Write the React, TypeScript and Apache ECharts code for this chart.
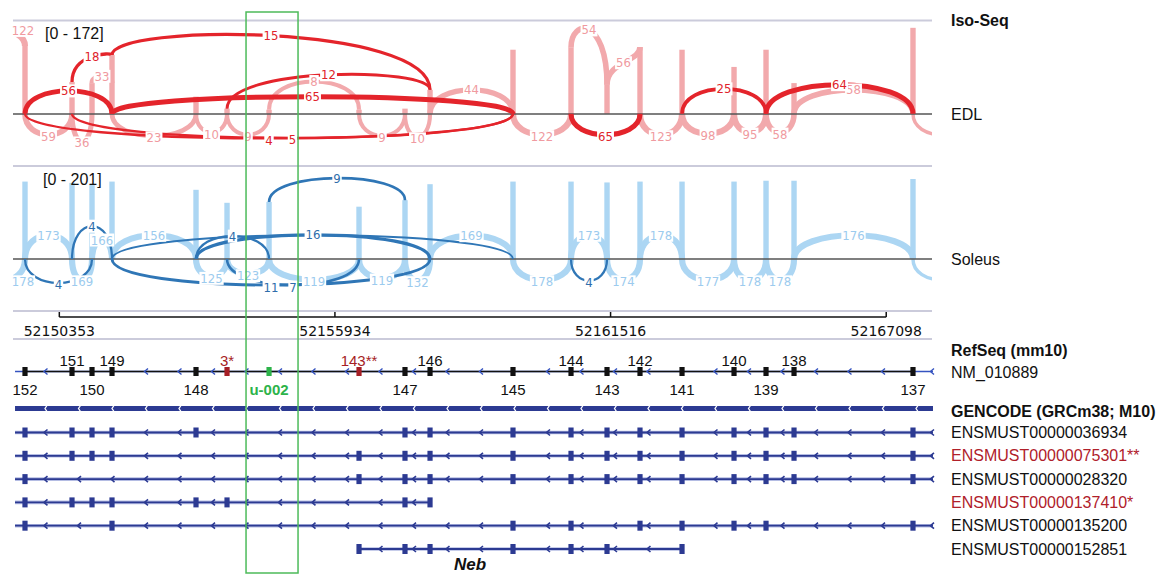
import React, { useEffect, useRef } from "react";
import * as echarts from "echarts";

// ---------- data ----------
const EXON_NAMES = ["152", "151", "150", "149", "148", "3*", "u-002", "143**", "147", "146", "145", "144", "143", "142", "141", "140", "139", "138", "137"];
const EXON_POS = [52149658, 52150610, 52151015, 52151420, 52153121, 52153749, 52154600, 52156422, 52157353, 52157860, 52159540, 52160715, 52161444, 52162112, 52162963, 52164016, 52164664, 52165231, 52167640];
const REFSEQ_LABEL_ABOVE = [false, true, false, true, false, true, false, true, false, true, false, true, false, true, false, true, false, true, false];
const OFFSCREEN_NAMES = ["153", "136"];
const OFFSCREEN_POS = [52148848, 52168795];
const GENE_START = 52149456;
const GENE_END = 52168045;
const RULER_TICKS = [52150353, 52155934, 52161516, 52167098];
const HIGHLIGHT_REGION = [52154134, 52155187];
const RED_EXONS = ["3*", "143**"];
const GREEN_EXONS = ["u-002"];

const EDL_COVERAGE = [132, 61, 59, 113, 33, 10, 8, 8, 10, 46, 123, 127, 56, 128, 123, 90, 123, 59, 165];
const SOLEUS_COVERAGE = [179, 176, 171, 179, 160, 130, 132, 121, 136, 173, 179, 179, 177, 179, 179, 179, 181, 181, 185];

// [from, to, count, side(1 above / -1 below), apex, startHeight, endHeight, dark]
type Junction = [string, string, number | null, number, number, number, number, number];
const EDL_JUNCTIONS: Junction[] = [
  ["153", "152", 122, 1, 160, 150, 130, 0],
  ["152", "151", 59, -1, -40, 0, 0, 0],
  ["151", "150", 36, -1, -52, 0, 0, 0],
  ["150", "149", 33, 1, 72, 59, 59, 0],
  ["149", "148", 23, -1, -42, 0, 0, 0],
  ["148", "3*", 10, -1, -35, 0, 0, 0],
  ["3*", "u-002", 9, -1, -40, 0, 0, 0],
  ["u-002", "143**", 8, 1, 62, 8, 8, 0],
  ["143**", "147", 9, -1, -42, 0, 0, 0],
  ["147", "146", 10, -1, -44, 0, 0, 0],
  ["146", "145", 44, 1, 46, 0, 0, 0],
  ["145", "144", 122, -1, -40, 0, 0, 0],
  ["144", "143", 54, 1, 161, 127, 56, 0],
  ["143", "142", 56, 1, 98, 56, 128, 0],
  ["142", "141", 123, -1, -40, 0, 0, 0],
  ["141", "140", 98, -1, -38, 0, 0, 0],
  ["140", "139", 95, -1, -35, 0, 0, 0],
  ["139", "138", 58, -1, -35, 0, 0, 0],
  ["138", "137", 58, 1, 46, 0, 0, 0],
  ["137", "136", null, -1, -40, 0, 0, 0],
  ["152", "149", 56, 1, 44, 0, 0, 1],
  ["151", "149", 18, 1, 110, 61, 113, 1],
  ["149", "146", 15, 1, 150, 113, 46, 1],
  ["3*", "146", 12, 1, 75, 10, 46, 1],
  ["149", "145", 65, 1, 33, 0, 0, 1],
  ["152", "145", 4, -1, -47, 0, 0, 1],
  ["151", "145", 5, -1, -46, 0, 0, 1],
  ["144", "142", 65, -1, -40, 0, 0, 1],
  ["141", "139", 25, 1, 48, 0, 0, 1],
  ["139", "137", 64, 1, 56, 0, 0, 1],
];

const SOLEUS_JUNCTIONS: Junction[] = [
  ["153", "152", 178, -1, -48, 0, 0, 0],
  ["152", "151", 173, 1, 55, 0, 0, 0],
  ["151", "150", 169, -1, -48, 0, 0, 0],
  ["150", "149", 166, 1, 44, 0, 0, 0],
  ["149", "148", 156, 1, 55, 0, 0, 0],
  ["148", "3*", 125, -1, -40, 0, 0, 0],
  ["3*", "u-002", 123, -1, -34, 0, 0, 0],
  ["u-002", "143**", 119, -1, -48, 0, 0, 0],
  ["143**", "147", 119, -1, -44, 0, 0, 0],
  ["147", "146", 132, -1, -50, 0, 0, 0],
  ["146", "145", 169, 1, 54, 0, 0, 0],
  ["145", "144", 178, -1, -48, 0, 0, 0],
  ["144", "143", 173, 1, 55, 0, 0, 0],
  ["143", "142", 174, -1, -48, 0, 0, 0],
  ["142", "141", 178, 1, 55, 0, 0, 0],
  ["141", "140", 177, -1, -48, 0, 0, 0],
  ["140", "139", 178, -1, -48, 0, 0, 0],
  ["139", "138", 178, -1, -48, 0, 0, 0],
  ["138", "137", 176, 1, 55, 0, 0, 0],
  ["137", "136", null, -1, -48, 0, 0, 0],
  ["152", "150", 4, -1, -55, 0, 0, 1],
  ["151", "149", 4, 1, 76, 0, 0, 1],
  ["u-002", "147", 9, 1, 187, 132, 136, 1],
  ["149", "145", null, 1, 55, 0, 0, 1],
  ["148", "146", 16, 1, 56, 0, 0, 1],
  ["148", "u-002", 4, 1, 53, 0, 0, 1],
  ["149", "146", 11, -1, -60, 0, 0, 1],
  ["3*", "143**", 7, -1, -60, 0, 0, 1],
  ["144", "143", 4, -1, -50, 0, 0, 1],
];

const TX_IDS = ["ENSMUST00000036934", "ENSMUST00000075301**", "ENSMUST00000028320", "ENSMUST00000137410*", "ENSMUST00000135200", "ENSMUST00000152851"];
const TX_RED = [false, true, false, true, false, false];
const TX_EXONS = [
  ["152", "151", "150", "149", "148", "147", "146", "145", "144", "143", "142", "141", "140", "139", "138", "137"],
  ["152", "151", "150", "149", "143**", "147", "146", "145", "144", "143", "142", "141", "140", "139", "138", "137"],
  ["152", "143**", "147", "146", "145", "144", "143", "142", "141", "140", "139", "138", "137"],
  ["152", "151", "150", "149", "148", "3*", "147", "146"],
  ["152", "149", "145", "144", "142", "141", "140", "139", "137"],
  ["143**", "147", "146", "145", "144", "143", "141"],
];

// ---------- layout / style ----------
const W = 1166, H = 575;
const GRID_LEFT = 13, GRID_WIDTH = 919;
const X_MIN = 52149415, X_MAX = 52168025;
const RULER_Y = 6, RULER_LABEL_Y = 19.5;
const REFSEQ_Y = 60.5, REFSEQ_ABOVE_Y = 49, REFSEQ_BELOW_Y = 78;
const GENCODE_Y = 97.5, TX_Y0 = 121.5, TX_STEP = 23.3;
const ANNOT_TOP = 311;
const LABEL_X = 951;
const CHEV_ANCHOR = 32.5, CHEV_STEP = 33.5;
const SANS = "'Liberation Sans', Arial, Helvetica, sans-serif";
const ARC_FONT = "13px 'DejaVu Sans Condensed', 'DejaVu Sans', sans-serif";
const TX_BLUE = "#2c3a92";
const CHEV_BLUE = "#3553c0";
const EDL_PAL = { light: "#f2a9ac", dark: "#e4242b", lightText: "#f09aa0", darkText: "#e0222a" };
const SOL_PAL = { light: "#acd6f3", dark: "#2f76b6", lightText: "#9ccbee", darkText: "#2e6dab" };

const posOf = (name: string): number => {
  const i = EXON_NAMES.indexOf(name);
  if (i >= 0) return EXON_POS[i];
  return OFFSCREEN_POS[OFFSCREEN_NAMES.indexOf(name)];
};

function chevron(x: number, y: number, color: string, lw = 1.4) {
  return { type: "polyline", shape: { points: [[x + 2, y - 3], [x - 1.5, y], [x + 2, y + 3]] }, style: { stroke: color, lineWidth: lw, fill: "none" } };
}

function trackSeries(idx: number, coverage: number[], junctions: Junction[], pal: any) {
  const resolved = junctions.map((j) => ({
    x1: posOf(j[0]), x2: posOf(j[1]), count: j[2], side: j[3], apex: j[4], h1: j[5], h2: j[6], dark: j[7],
  }));
  const light = resolved.filter((r) => !r.dark);
  const dark = resolved.filter((r) => r.dark);
  const labeled = resolved.filter((r) => r.count !== null);
  const geom = (r: any, api: any) => {
    const p1 = api.coord([r.x1, r.h1]);
    const p2 = api.coord([r.x2, r.h2]);
    const ay = api.coord([r.x1, r.apex])[1];
    const c = (ay - (p1[1] + p2[1]) / 8) / 0.75;
    return { p1, p2, ay, c };
  };
  const width = (r: any) => {
    const n = r.count === null ? 2 : r.count;
    return r.dark ? Math.min(5.2, 1.4 + Math.sqrt(n) * 0.45) : Math.min(6.2, 3 + Math.sqrt(n) * 0.35);
  };
  const arcSeries = (list: any[], z: number) => ({
    type: "custom", xAxisIndex: idx, yAxisIndex: idx, z, clip: true, silent: true,
    data: list.map((r) => [r.x1, r.x2, r.h1, r.h2, r.apex]),
    renderItem: (params: any, api: any) => {
      const r = list[params.dataIndex];
      const { p1, p2, c } = geom(r, api);
      return {
        type: "bezierCurve",
        shape: { x1: p1[0], y1: p1[1], x2: p2[0], y2: p2[1], cpx1: p1[0], cpy1: c, cpx2: p2[0], cpy2: c },
        style: { stroke: r.dark ? pal.dark : pal.light, lineWidth: width(r), fill: "none" },
      };
    },
  });
  return [
    {
      type: "custom", xAxisIndex: idx, yAxisIndex: idx, z: 2, silent: true,
      data: EXON_POS.map((p, i) => [p, coverage[i]]),
      renderItem: (params: any, api: any) => {
        const top = api.coord([api.value(0), api.value(1)]);
        const base = api.coord([api.value(0), 0]);
        return { type: "rect", shape: { x: top[0] - 2.7, y: top[1], width: 5.4, height: base[1] - top[1] }, style: { fill: pal.light } };
      },
    },
    arcSeries(light, 3),
    arcSeries(dark, 5),
    {
      type: "custom", xAxisIndex: idx, yAxisIndex: idx, z: 6, silent: true,
      data: labeled.map((r) => [r.x1, r.x2, r.apex]),
      renderItem: (params: any, api: any) => {
        const r = labeled[params.dataIndex];
        const { p1, p2, ay } = geom(r, api);
        const mx = Math.max((p1[0] + p2[0]) / 2, GRID_LEFT + 10);
        return {
          type: "text", x: mx, y: ay + (r.side < 0 ? 2 : 0),
          style: {
            text: String(r.count), fill: r.dark ? pal.darkText : pal.lightText, font: ARC_FONT,
            align: "center", verticalAlign: "middle", textAlign: "center", textVerticalAlign: "middle",
            backgroundColor: "#ffffff", padding: [0, 1],
          },
        };
      },
    },
  ];
}

function annotationSeries() {
  const A = 2;
  const ruler = {
    type: "custom", xAxisIndex: A, yAxisIndex: A, z: 3, silent: true,
    data: RULER_TICKS.map((t) => [t]),
    renderItem: (params: any, api: any) => {
      const t = api.value(0);
      const p = api.coord([t, RULER_Y]);
      const children: any[] = [
        { type: "line", shape: { x1: p[0], y1: p[1] - 5, x2: p[0], y2: p[1] }, style: { stroke: "#111", lineWidth: 1.5 } },
        {
          type: "text", x: p[0], y: api.coord([t, RULER_LABEL_Y])[1],
          style: { text: String(t), fill: "#111", font: "14px 'DejaVu Sans', sans-serif", align: "center", verticalAlign: "middle", textAlign: "center", textVerticalAlign: "middle" },
        },
      ];
      if (params.dataIndex === 0) {
        const q = api.coord([RULER_TICKS[RULER_TICKS.length - 1], RULER_Y]);
        children.push({ type: "line", shape: { x1: p[0], y1: p[1], x2: q[0], y2: q[1] }, style: { stroke: "#111", lineWidth: 1.5 } });
      }
      return { type: "group", children };
    },
  };

  const refLine = {
    type: "custom", xAxisIndex: A, yAxisIndex: A, z: 3, silent: true,
    data: [[GENE_START, GENE_END]],
    renderItem: (params: any, api: any) => {
      const a = api.coord([GENE_START, REFSEQ_Y]);
      const b = api.coord([GENE_END, REFSEQ_Y]);
      const f = api.coord([EXON_POS[0], REFSEQ_Y])[0];
      const l = api.coord([EXON_POS[EXON_POS.length - 1], REFSEQ_Y])[0];
      const ex = EXON_POS.map((p) => api.coord([p, 0])[0]);
      const y = a[1];
      const children: any[] = [
        { type: "line", shape: { x1: a[0], y1: y, x2: b[0], y2: y }, style: { stroke: CHEV_BLUE, lineWidth: 1.4 } },
        { type: "line", shape: { x1: f, y1: y, x2: l, y2: y }, style: { stroke: "#111", lineWidth: 1.4 } },
      ];
      for (let x = GRID_LEFT + CHEV_ANCHOR; x < b[0] - 3; x += CHEV_STEP) {
        if (x < a[0] + 3) continue;
        if (ex.some((e) => Math.abs(e - x) < 7)) continue;
        children.push(chevron(x, y, CHEV_BLUE));
      }
      children.push(chevron(b[0] - 1, y, CHEV_BLUE));
      return { type: "group", children };
    },
  };

  const refExons = {
    type: "custom", xAxisIndex: A, yAxisIndex: A, z: 4, silent: true,
    data: EXON_POS.map((p) => [p]),
    renderItem: (params: any, api: any) => {
      const i = params.dataIndex;
      const name = EXON_NAMES[i];
      const p = api.coord([api.value(0), REFSEQ_Y]);
      const red = RED_EXONS.includes(name);
      const green = GREEN_EXONS.includes(name);
      const col = red ? "#a61e25" : green ? "#2db34a" : "#111";
      const ly = api.coord([0, REFSEQ_LABEL_ABOVE[i] ? REFSEQ_ABOVE_Y : REFSEQ_BELOW_Y])[1];
      return {
        type: "group",
        children: [
          { type: "rect", shape: { x: p[0] - 2.6, y: p[1] - 4.5, width: 5.2, height: 9 }, style: { fill: col } },
          {
            type: "text", x: p[0], y: ly,
            style: {
              text: name, fill: col,
              font: (green ? "bold " : "") + "15px " + SANS,
              align: "center", verticalAlign: "middle", textAlign: "center", textVerticalAlign: "middle",
            },
          },
        ],
      };
    },
  };

  const gencode = {
    type: "custom", xAxisIndex: A, yAxisIndex: A, z: 3, silent: true,
    data: [[GENE_START, GENE_END]],
    renderItem: (params: any, api: any) => {
      const a = api.coord([GENE_START, GENCODE_Y]);
      const b = api.coord([GENE_END, GENCODE_Y]);
      const y = a[1];
      const children: any[] = [
        { type: "line", shape: { x1: a[0], y1: y, x2: b[0], y2: y }, style: { stroke: TX_BLUE, lineWidth: 5 } },
      ];
      for (let x = GRID_LEFT + CHEV_ANCHOR; x < b[0] - 3; x += CHEV_STEP) {
        children.push({ type: "polyline", shape: { points: [[x + 1.5, y - 3], [x - 0.5, y], [x + 1.5, y + 3]] }, style: { stroke: "#ffffff", lineWidth: 1.3, fill: "none" } });
      }
      return { type: "group", children };
    },
  };

  const txStart = TX_EXONS.map((ex) => (ex.includes("152") ? GENE_START : posOf(ex[0])));
  const txEnd = TX_EXONS.map((ex) => (ex.includes("137") ? GENE_END : posOf(ex[ex.length - 1])));
  const transcripts = {
    type: "custom", xAxisIndex: A, yAxisIndex: A, z: 3, silent: true,
    data: TX_IDS.map((_, i) => [txStart[i], txEnd[i]]),
    renderItem: (params: any, api: any) => {
      const i = params.dataIndex;
      const rowY = TX_Y0 + i * TX_STEP;
      const a = api.coord([txStart[i], rowY]);
      const b = api.coord([txEnd[i], rowY]);
      const y = a[1];
      const ex = TX_EXONS[i].map((n) => api.coord([posOf(n), rowY])[0]);
      const children: any[] = [
        { type: "line", shape: { x1: a[0], y1: y, x2: b[0], y2: y }, style: { stroke: "#b4bce3", lineWidth: 3.6 } },
        { type: "line", shape: { x1: a[0], y1: y, x2: b[0], y2: y }, style: { stroke: TX_BLUE, lineWidth: 1.8 } },
      ];
      for (let x = GRID_LEFT + CHEV_ANCHOR; x < b[0] - 3; x += CHEV_STEP) {
        if (x < a[0] + 3) continue;
        if (ex.some((e) => Math.abs(e - x) < 7)) continue;
        children.push(chevron(x, y, TX_BLUE, 1.6));
      }
      if (txEnd[i] === GENE_END) children.push(chevron(b[0] - 1, y, TX_BLUE, 1.6));
      ex.forEach((x) => {
        children.push({ type: "rect", shape: { x: x - 2.6, y: y - 5, width: 5.2, height: 10 }, style: { fill: TX_BLUE } });
      });
      return { type: "group", children };
    },
  };

  const highlight = {
    type: "custom", xAxisIndex: A, yAxisIndex: A, z: 10, silent: true,
    data: [HIGHLIGHT_REGION],
    renderItem: (params: any, api: any) => {
      const x1 = api.coord([api.value(0), 0])[0];
      const x2 = api.coord([api.value(1), 0])[0];
      return { type: "rect", shape: { x: x1, y: 12, width: x2 - x1, height: 561 }, style: { fill: "none", stroke: "#4dbb5a", lineWidth: 1.5 } };
    },
  };

  return [ruler, refLine, refExons, gencode, transcripts, highlight];
}

function sideText(text: string, y: number, opts: any = {}) {
  return {
    type: "text", x: opts.x ?? LABEL_X, y, z: 20,
    style: {
      text, fill: opts.fill || "#111",
      font: `${opts.weight || "normal"} ${opts.size || 16}px ${SANS}`,
      textAlign: opts.align || "left", textVerticalAlign: "middle", align: opts.align || "left", verticalAlign: "middle",
    },
  };
}

function hline(y: number, color: string, lw: number, z = 1) {
  return { type: "line", z, shape: { x1: GRID_LEFT, y1: y, x2: GRID_LEFT + GRID_WIDTH, y2: y }, style: { stroke: color, lineWidth: lw } };
}

export default function App() {
  const ref = useRef<HTMLDivElement>(null);
  useEffect(() => {
    if (!ref.current) return;
    const chart = echarts.init(ref.current, undefined, { renderer: "svg" });
    const txLabels = TX_IDS.map((id, i) =>
      sideText(id, ANNOT_TOP + TX_Y0 + i * TX_STEP, { fill: TX_RED[i] ? "#b0202a" : "#111" })
    );
    const option: any = {
      animation: false,
      backgroundColor: "#ffffff",
      grid: [
        { left: GRID_LEFT, width: GRID_WIDTH, top: 20, height: 146 },
        { left: GRID_LEFT, width: GRID_WIDTH, top: 166, height: 145 },
        { left: GRID_LEFT, width: GRID_WIDTH, top: ANNOT_TOP, height: 264 },
      ],
      xAxis: [0, 1, 2].map((i) => ({ type: "value", gridIndex: i, min: X_MIN, max: X_MAX, show: false })),
      yAxis: [
        { type: "value", gridIndex: 0, min: -100, max: 180, show: false },
        { type: "value", gridIndex: 1, min: -120, max: 215, show: false },
        { type: "value", gridIndex: 2, min: 0, max: 264, inverse: true, show: false },
      ],
      graphic: [
        hline(20.5, "#cbcbdb", 2),
        hline(166, "#cbcbdb", 2),
        hline(311, "#cbcbdb", 2),
        hline(339, "#cbcbdb", 2),
        { ...hline(114, "#555555", 1.6), z: 4 },
        { ...hline(259, "#555555", 1.6), z: 4 },
        sideText("[0 - 172]", 33, { x: 45 }),
        sideText("[0 - 201]", 179, { x: 43 }),
        sideText("Iso-Seq", 20, { weight: "bold" }),
        sideText("EDL", 114),
        sideText("Soleus", 259),
        sideText("RefSeq (mm10)", 350, { weight: "bold" }),
        sideText("NM_010889", 372),
        sideText("GENCODE (GRCm38; M10)", 411, { weight: "bold" }),
        ...txLabels,
        {
          type: "text", x: 470, y: 564, z: 20,
          style: { text: "Neb", fill: "#111", font: `italic bold 17px ${SANS}`, textAlign: "center", textVerticalAlign: "middle", align: "center", verticalAlign: "middle" },
        },
      ],
      series: [
        ...trackSeries(0, EDL_COVERAGE, EDL_JUNCTIONS, EDL_PAL),
        ...trackSeries(1, SOLEUS_COVERAGE, SOLEUS_JUNCTIONS, SOL_PAL),
        ...annotationSeries(),
      ],
    };
    chart.setOption(option);
    return () => chart.dispose();
  }, []);
  return <div ref={ref} style={{ position: "absolute", left: 0, top: 0, width: W, height: H, background: "#fff" }} />;
}
